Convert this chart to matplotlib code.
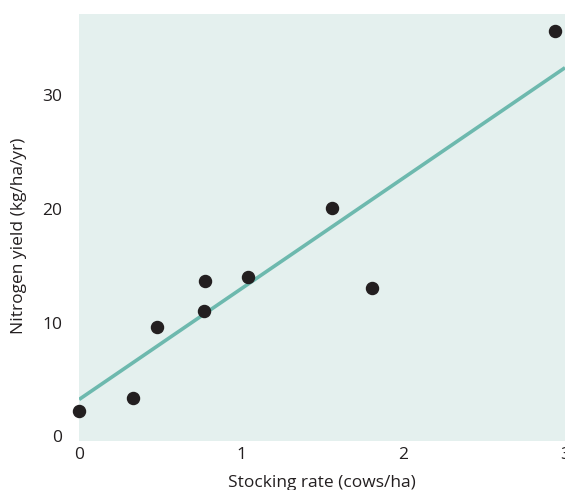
import matplotlib
matplotlib.use("Agg")
import matplotlib.pyplot as plt

plt.rcParams['font.family'] = ['Open Sans', 'DejaVu Sans']

stocking_rate = [0.0, 0.33, 0.48, 0.77, 0.78, 1.04, 1.56, 1.81, 2.94]
nitrogen_yield = [2.2, 3.4, 9.6, 11.0, 13.7, 14.0, 20.1, 13.0, 35.6]
fit_x = [0.0, 3.0]
fit_y = [3.25, 32.4]
x_ticks = [0, 1, 2, 3]
y_ticks = [0, 10, 20, 30]

fig = plt.figure(figsize=(5.65, 4.9), dpi=100)
ax = fig.add_axes([0.140, 0.100, 0.860, 0.871])
ax.set_facecolor('#e4f0ee')
for s in ax.spines.values():
    s.set_visible(False)

ax.plot(fit_x, fit_y, color='#6db9ae', lw=2.6, zorder=2, solid_capstyle='butt')
ax.scatter(stocking_rate, nitrogen_yield, s=75, color='#231f20', zorder=3, clip_on=False)

ax.set_xlim(0, 3)
ax.set_ylim(-0.4, 37.1)
ax.set_xticks(x_ticks)
ax.set_yticks(y_ticks)
ax.tick_params(length=0, labelsize=12.5, colors='#231f20', pad=12)
ax.tick_params(axis='x', pad=4)
ax.set_xlabel('Stocking rate (cows/ha)', fontsize=12.5, color='#231f20', labelpad=9)
ax.set_ylabel('Nitrogen yield (kg/ha/yr)', fontsize=12.5, color='#231f20')
ax.yaxis.set_label_coords(-0.107, 0.48)

fig.savefig('out.png', dpi=100)
